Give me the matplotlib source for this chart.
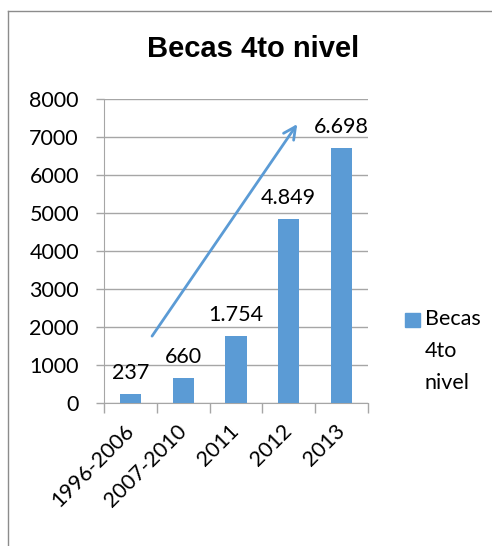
import matplotlib
matplotlib.use("Agg")
import matplotlib.pyplot as plt
from matplotlib.lines import Line2D
from matplotlib.patches import Rectangle
import numpy as np

categories = ["1996-2006", "2007-2010", "2011", "2012", "2013"]
becas = [237, 660, 1754, 4849, 6698]
labels = ["237", "660", "1.754", "4.849", "6.698"]
legend_label = "Becas\n4to\nnivel"
# trend arrow in data units (category index, value)
arrow_start = (0.41, 1760)
arrow_end = (3.16, 7340)

blue = "#5B9BD5"
grid = "#A6A6A6"
font = "Lato"
fs = 15.5

W, H = 492, 546
fig = plt.figure(figsize=(W / 100, H / 100), dpi=100)
ax = fig.add_axes([104 / W, 1 - 403 / H, 264 / W, 304 / H])

x = np.arange(len(categories))
ax.bar(x, becas, width=0.4, color=blue, zorder=3)

for xi, v, lab in zip(x, becas, labels):
    ax.annotate(lab, (xi, v), xytext=(0, 8), textcoords="offset points",
                ha="center", va="bottom", fontsize=fs, family=font)

ax.annotate("", xy=arrow_end, xytext=arrow_start,
            arrowprops=dict(arrowstyle="->", color=blue, lw=2,
                            mutation_scale=22, shrinkA=0, shrinkB=0),
            zorder=4)

ax.set_xlim(-0.5, len(categories) - 0.5)
ax.set_ylim(0, 8000)
ax.set_yticks(range(0, 8001, 1000))
ax.yaxis.grid(True, color=grid, lw=1, zorder=0)
ax.tick_params(axis="y", length=6, width=1, color=grid, pad=12, labelsize=fs)
for t in ax.get_yticklabels():
    t.set_family(font)

ax.set_xticks(x)
ax.set_xticklabels(categories, rotation=45, ha="right", va="center",
                   rotation_mode="anchor", fontsize=fs, family=font)
ax.tick_params(axis="x", length=0, pad=18)
ax.set_xticks(np.arange(-0.5, len(categories)), minor=True)
ax.tick_params(axis="x", which="minor", length=7, width=1, color=grid)

for s in ["top", "right"]:
    ax.spines[s].set_visible(False)
for s in ["left", "bottom"]:
    ax.spines[s].set_color(grid)

fig.text(253 / W, 1 - 49 / H, "Becas 4to nivel", ha="center", va="center",
         fontsize=21, fontweight="bold", family="Liberation Sans")

# legend: swatch next to the first line of a wrapped label
fig.add_artist(Rectangle((405 / W, 1 - 327 / H), 15 / W, 14 / H,
                         transform=fig.transFigure, color=blue))
fig.text(425 / W, 1 - 309 / H, legend_label, ha="left", va="top",
         fontsize=fs, family=font, linespacing=1.75)

# outer frame of the embedded chart
fig.add_artist(Line2D([8 / W, 8 / W], [0, 1 - 11 / H], color="#8C8C8C", lw=1))
fig.add_artist(Line2D([8 / W, 1], [1 - 11 / H, 1 - 11 / H], color="#8C8C8C", lw=1))

fig.savefig("out.png", dpi=100)
